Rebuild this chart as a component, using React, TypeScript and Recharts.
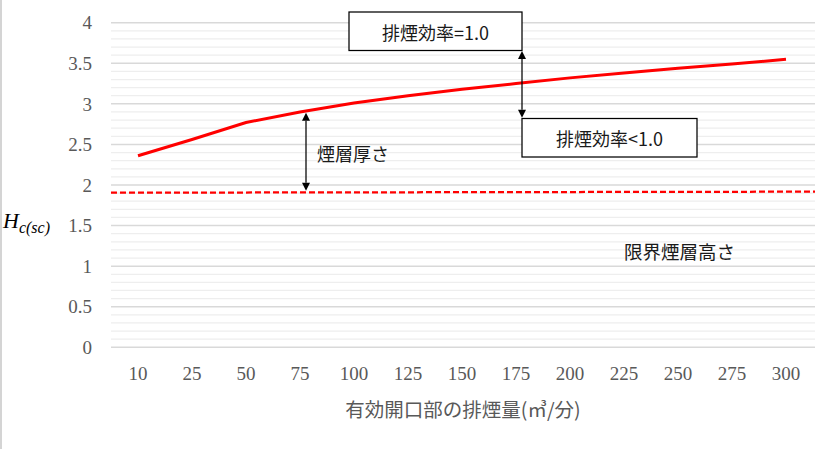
import React from "react";
import {
  LineChart,
  Line,
  XAxis,
  YAxis,
  CartesianGrid,
  ReferenceLine,
} from "recharts";

// 有効開口部の排煙量 (m3/分)
const CATEGORIES = [10, 25, 50, 75, 100, 125, 150, 175, 200, 225, 250, 275, 300];
// 排煙効率=1.0 の煙層高さ
const HEIGHT_VALUES = [2.36, 2.56, 2.77, 2.9, 3.01, 3.1, 3.18, 3.25, 3.32, 3.38, 3.44, 3.49, 3.55];
// 限界煙層高さ (secondary x, spans the whole plot)
const LIMIT_X = [0, 1];
const LIMIT_VALUES = [1.905, 1.918];

const Y_MAX = 4;
const Y_TICKS = [0, 0.5, 1, 1.5, 2, 2.5, 3, 3.5, 4];
const MINOR_TICKS = [
  0.1, 0.2, 0.3, 0.4, 0.6, 0.7, 0.8, 0.9, 1.1, 1.2, 1.3, 1.4, 1.6, 1.7, 1.8, 1.9,
  2.1, 2.2, 2.3, 2.4, 2.6, 2.7, 2.8, 2.9, 3.1, 3.2, 3.3, 3.4, 3.6, 3.7, 3.8, 3.9,
];

// double arrows: category, lower end, upper end
const ARROW_CATS = [75, 175];
const ARROW_FROM = [1.93, 2.83];
const ARROW_TO = [2.89, 3.65];

const data = CATEGORIES.map((x, i) => ({ x, h: HEIGHT_VALUES[i] }));
const limitData = LIMIT_X.map((t, i) => ({ t, v: LIMIT_VALUES[i] }));

const SERIF = '"Liberation Serif", "DejaVu Serif", serif';
const JP = '"Noto Sans CJK JP", "Noto Sans", sans-serif';

// minor gridlines every 0.1 (uses the axis scale when it is handed over)
const minorLines = (p: any) => {
  const s = p?.yAxis?.scale;
  if (typeof s === "function") return MINOR_TICKS.map((v) => s(v));
  if (s && typeof s.map === "function") return MINOR_TICKS.map((v) => s.map(v));
  const { top, height } = p.offset;
  return MINOR_TICKS.map((v) => top + height * (1 - v / Y_MAX));
};

const ArrowShape = (props: any) => {
  const { x1, y1, y2 } = props;
  const x = x1 + 6;
  const top = Math.min(y1, y2);
  const bottom = Math.max(y1, y2);
  const h = 8;
  const w = 4;
  return (
    <g>
      <line x1={x} y1={top + h} x2={x} y2={bottom - h} stroke="#000" strokeWidth={1.25} />
      <polygon points={`${x},${top} ${x - w},${top + h} ${x + w},${top + h}`} fill="#000" />
      <polygon points={`${x},${bottom} ${x - w},${bottom - h} ${x + w},${bottom - h}`} fill="#000" />
    </g>
  );
};

export default function App() {
  return (
    <div
      style={{
        position: "absolute",
        left: 0,
        top: 0,
        width: 838,
        height: 449,
        background: "#fff",
        overflow: "hidden",
      }}
    >
      <LineChart
        width={838}
        height={449}
        data={data}
        margin={{ top: 22.7, right: 23, left: 51, bottom: 71.7 }}
      >
        <CartesianGrid
          vertical={false}
          stroke="#eeeeee"
          strokeWidth={1.25}
          horizontalCoordinatesGenerator={minorLines}
        />
        <CartesianGrid vertical={false} stroke="#d9d9d9" strokeWidth={1.5} />
        <XAxis
          dataKey="x"
          type="category"
          padding={{ left: 27, right: 29 }}
          axisLine={false}
          tickLine={false}
          tickSize={0}
          tickMargin={19}
          height={30}
          interval={0}
          tick={{ fill: "#595959", fontSize: 19, fontFamily: SERIF }}
        />
        <XAxis xAxisId="limit" dataKey="t" type="number" domain={[0, 1]} hide />
        <YAxis
          domain={[0, Y_MAX]}
          ticks={Y_TICKS}
          interval={0}
          width={60}
          axisLine={false}
          tickLine={false}
          tickSize={0}
          tickMargin={19}
          tick={{ fill: "#595959", fontSize: 19, fontFamily: SERIF }}
        />
        <Line
          dataKey="h"
          stroke="#ff0000"
          strokeWidth={3}
          dot={false}
          activeDot={false}
          isAnimationActive={false}
        />
        <Line
          xAxisId="limit"
          data={limitData}
          dataKey="v"
          stroke="#ff0000"
          strokeWidth={2.25}
          strokeDasharray="6 3"
          dot={false}
          activeDot={false}
          isAnimationActive={false}
        />
        {ARROW_CATS.map((c, i) => (
          <ReferenceLine
            key={c}
            segment={[
              { x: c, y: ARROW_FROM[i] },
              { x: c, y: ARROW_TO[i] },
            ]}
            shape={ArrowShape}
          />
        ))}
      </LineChart>
      <svg
        width={838}
        height={449}
        style={{ position: "absolute", left: 0, top: 0, pointerEvents: "none" }}
      >
        <rect x={0} y={0} width={2} height={449} fill="#d4d4d4" />
        <rect x={349} y={12} width={173} height={38.5} fill="#fff" stroke="#000" strokeWidth={1.25} />
        <text x={435.5} y={31.5} textAnchor="middle" dominantBaseline="central" fontSize={18} fontFamily={JP} fill="#1a1a1a">
          排煙効率=1.0
        </text>
        <rect x={522} y={118.5} width={175} height={38.5} fill="#fff" stroke="#000" strokeWidth={1.25} />
        <text x={609.5} y={138} textAnchor="middle" dominantBaseline="central" fontSize={18} fontFamily={JP} fill="#1a1a1a">
          排煙効率&lt;1.0
        </text>
        <text x={317} y={153} dominantBaseline="central" fontSize={18} fontFamily={JP} fill="#1a1a1a">
          煙層厚さ
        </text>
        <text x={624} y={251} dominantBaseline="central" fontSize={18.5} fontFamily={JP} fill="#1a1a1a">
          限界煙層高さ
        </text>
        <text x={463} y={408} textAnchor="middle" dominantBaseline="central" fontSize={19.5} fontFamily={JP} fill="#595959">
          有効開口部の排煙量(㎥/分)
        </text>
        <text x={3} y={228} fontSize={22} fontStyle="italic" fontFamily={SERIF} fill="#000">
          H
          <tspan fontSize={16} dy={5}>
            c(sc)
          </tspan>
        </text>
      </svg>
    </div>
  );
}
